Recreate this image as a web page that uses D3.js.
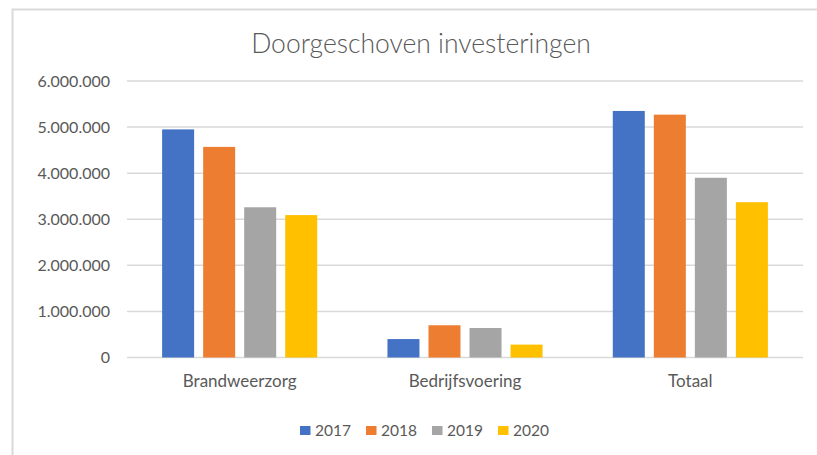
<!DOCTYPE html>
<html>
<head>
<meta charset="utf-8">
<script src="https://cdn.jsdelivr.net/npm/d3@7"></script>
<style>
  body { margin: 0; background: #fff; }
  text { font-family: Lato, "Open Sans", sans-serif; fill: #595959; }
</style>
</head>
<body>
<svg id="chart"></svg>
<script>
// data
var categories = ["Brandweerzorg", "Bedrijfsvoering", "Totaal"];
var years = ["2017", "2018", "2019", "2020"];
var v2017 = [4950000, 400000, 5350000];
var v2018 = [4570000, 700000, 5270000];
var v2019 = [3260000, 640000, 3900000];
var v2020 = [3090000, 280000, 3370000];
var yTicks = [0, 1000000, 2000000, 3000000, 4000000, 5000000, 6000000];
var colors = ["#4472C4", "#ED7D31", "#A5A5A5", "#FFC000"];

var series = [v2017, v2018, v2019, v2020];

var dimensions = {
    width: 817,
    height: 455,
    margins: { top: 81, right: 14, bottom: 97.5, left: 127 }
};

var nl = d3.formatLocale({ decimal: ",", thousands: ".", grouping: [3], currency: ["€", ""] });
var fmt = nl.format(",d");

var svg = d3.select("#chart")
            .attr("width", dimensions.width)
            .attr("height", dimensions.height);

// chart frame (runs off the right and bottom edge)
svg.append("rect")
   .attr("x", 12.5)
   .attr("y", 9.5)
   .attr("width", 900)
   .attr("height", 600)
   .attr("fill", "none")
   .attr("stroke", "#d9d9d9")
   .attr("stroke-width", 2);

var xScale = d3.scaleBand()
               .domain(categories)
               .range([dimensions.margins.left, dimensions.width - dimensions.margins.right])
               .padding(0);

var xInner = d3.scaleBand()
               .domain(years)
               .range([0, xScale.bandwidth()])
               .paddingInner(0.22)
               .paddingOuter(0.856);

var yScale = d3.scaleLinear()
               .domain([0, 6000000])
               .range([dimensions.height - dimensions.margins.bottom, dimensions.margins.top]);

// gridlines
svg.append("g")
   .selectAll("line")
   .data(yTicks)
   .enter()
   .append("line")
   .attr("x1", dimensions.margins.left)
   .attr("x2", dimensions.width - dimensions.margins.right)
   .attr("y1", d => yScale(d))
   .attr("y2", d => yScale(d))
   .attr("stroke", "#d9d9d9")
   .attr("stroke-width", 1.5);

// y labels
svg.append("g")
   .selectAll("text")
   .data(yTicks)
   .enter()
   .append("text")
   .attr("x", 110)
   .attr("y", d => yScale(d))
   .attr("dy", "0.35em")
   .attr("text-anchor", "end")
   .style("font-size", "16px")
   .text(d => fmt(d));

// bars
var rows = categories.map((c, i) => ({ category: c, values: years.map((y, j) => ({ year: y, value: series[j][i] })) }));

svg.append("g")
   .selectAll("g")
   .data(rows)
   .enter()
   .append("g")
   .attr("transform", d => "translate(" + xScale(d.category) + ",0)")
   .selectAll("rect")
   .data(d => d.values)
   .enter()
   .append("rect")
   .attr("x", d => xInner(d.year))
   .attr("y", d => yScale(d.value))
   .attr("width", xInner.bandwidth())
   .attr("height", d => yScale(0) - yScale(d.value))
   .attr("fill", d => colors[years.indexOf(d.year)]);

// category labels
svg.append("g")
   .selectAll("text")
   .data(categories)
   .enter()
   .append("text")
   .attr("x", d => xScale(d) + xScale.bandwidth() / 2)
   .attr("y", 381)
   .attr("dy", "0.35em")
   .attr("text-anchor", "middle")
   .style("font-size", "17px")
   .text(d => d);

// title
svg.append("text")
   .attr("x", 421)
   .attr("y", 44)
   .attr("dy", "0.35em")
   .attr("text-anchor", "middle")
   .style("font-size", "26.5px")
   .style("font-weight", 300)
   .text("Doorgeschoven investeringen");

// legend
var legend = svg.append("g")
                .attr("transform", "translate(300, 426)");

legend.selectAll("rect")
      .data(years)
      .enter()
      .append("rect")
      .attr("x", (d, i) => i * 66)
      .attr("y", 0)
      .attr("width", 10.5)
      .attr("height", 9)
      .attr("fill", (d, i) => colors[i]);

legend.selectAll("text")
      .data(years)
      .enter()
      .append("text")
      .attr("x", (d, i) => i * 66 + 15)
      .attr("y", 5)
      .attr("dy", "0.35em")
      .style("font-size", "15.5px")
      .text(d => d);
</script>
</body>
</html>
